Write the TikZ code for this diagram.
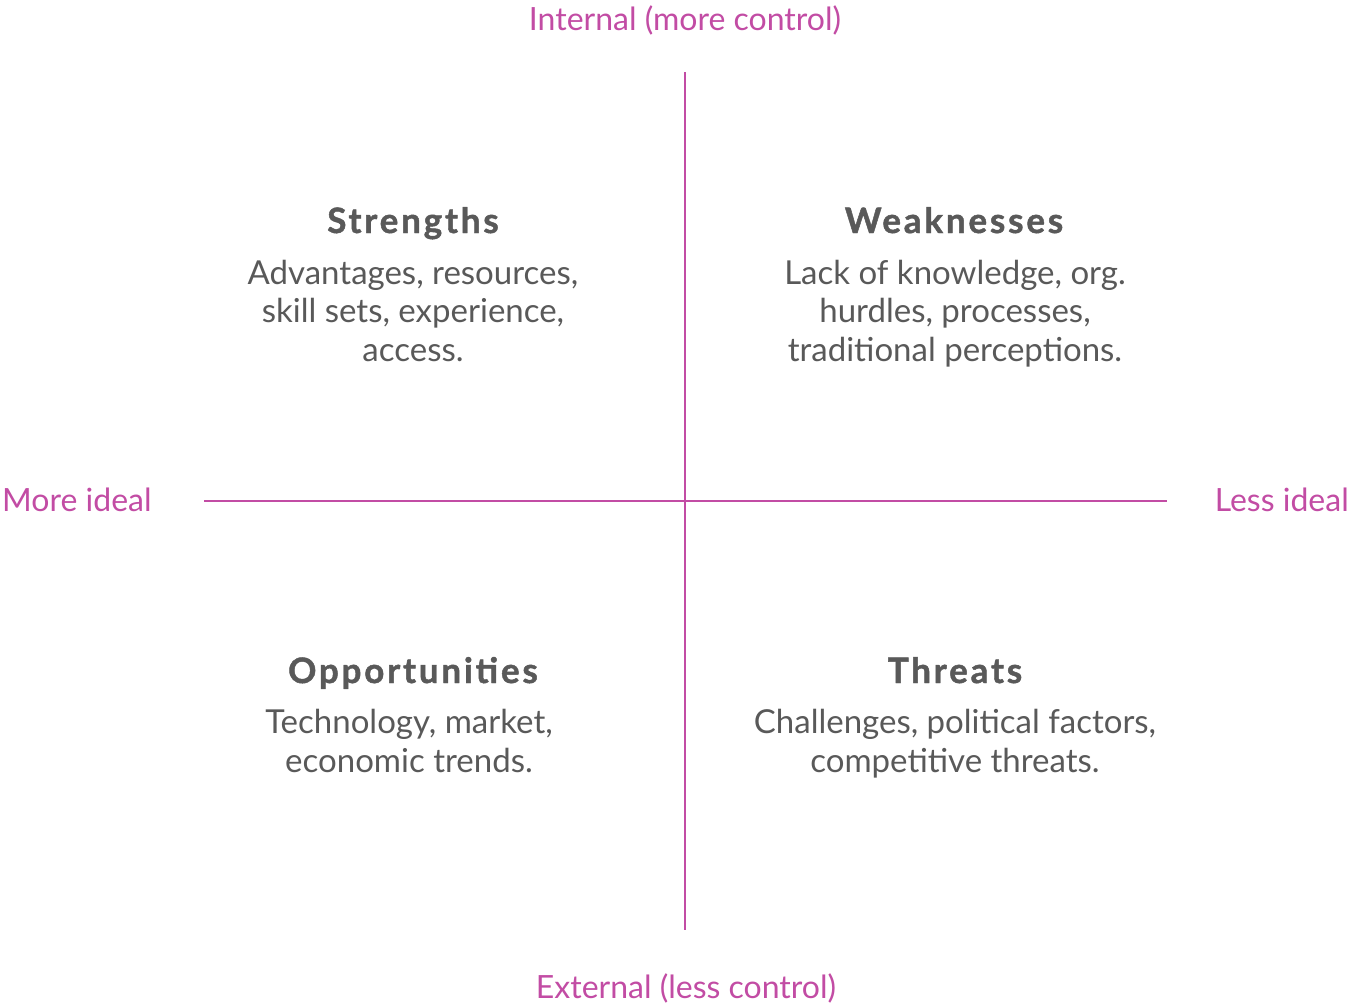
\documentclass[tikz,border=0pt]{standalone}
\usepackage{fontspec}
\setmainfont{Lato}
\newfontfamily\headfont[LetterSpace=8, BoldFeatures={FakeBold=1.3}]{Lato}
\usepackage{tikz}
\usetikzlibrary{positioning}
\definecolor{axispink}{HTML}{C24CA4}
\definecolor{swotgray}{HTML}{595959}
\tikzstyle{axis}=[draw=axispink, line width=2.8pt]
\tikzstyle{axislabel}=[text=axispink, font=\fontsize{32}{38}\selectfont, inner sep=0pt]
\tikzstyle{head}=[text=swotgray, font=\headfont\bfseries\fontsize{35}{40}\selectfont, inner sep=0pt, anchor=base]
\tikzstyle{body}=[text=swotgray, font=\fontsize{33}{38.5}\selectfont, align=center, inner sep=0pt, anchor=base]

\begin{document}
\begin{tikzpicture}[x=1pt,y=-1pt]
        \useasboundingbox (0,0) rectangle (1349,1005);
        % axes
        \coordinate (top) at (685,72);
        \coordinate (bottom) at (685,930);
        \coordinate (left) at (204,501);
        \coordinate (right) at (1167,501);
        \draw[axis] (top) -- (bottom);
        \draw[axis] (left) -- (right);
        \node[axislabel, anchor=base] (internal) at (685,30) {Internal (more control)};
        \node[axislabel, anchor=base] (external) at (686,998) {External (less control)};
        \node[axislabel, anchor=base west] (moreideal) at (2,511) {More ideal};
        \node[axislabel, anchor=base east] (lessideal) at (1349,511) {Less ideal};
        % quadrants (body nodes sit on their last baseline)
        \node[head] (str) at (413,233) {Strengths};
        \node[body] (strtxt) at (413,361) {Advantages, resources,\\skill sets, experience,\\access.};
        \node[head] (weak) at (954,233) {Weaknesses};
        \node[body] (weaktxt) at (955,361) {Lack of knowledge, org.\\hurdles, processes,\\traditional perceptions.};
        \node[head] (opp) at (413,683) {Opportunities};
        \node[body] (opptxt) at (409,772) {Technology, market,\\economic trends.};
        \node[head] (thr) at (955,683) {Threats};
        \node[body] (thrtxt) at (955,772) {Challenges, political factors,\\competitive threats.};
    \end{tikzpicture}
\end{document}
